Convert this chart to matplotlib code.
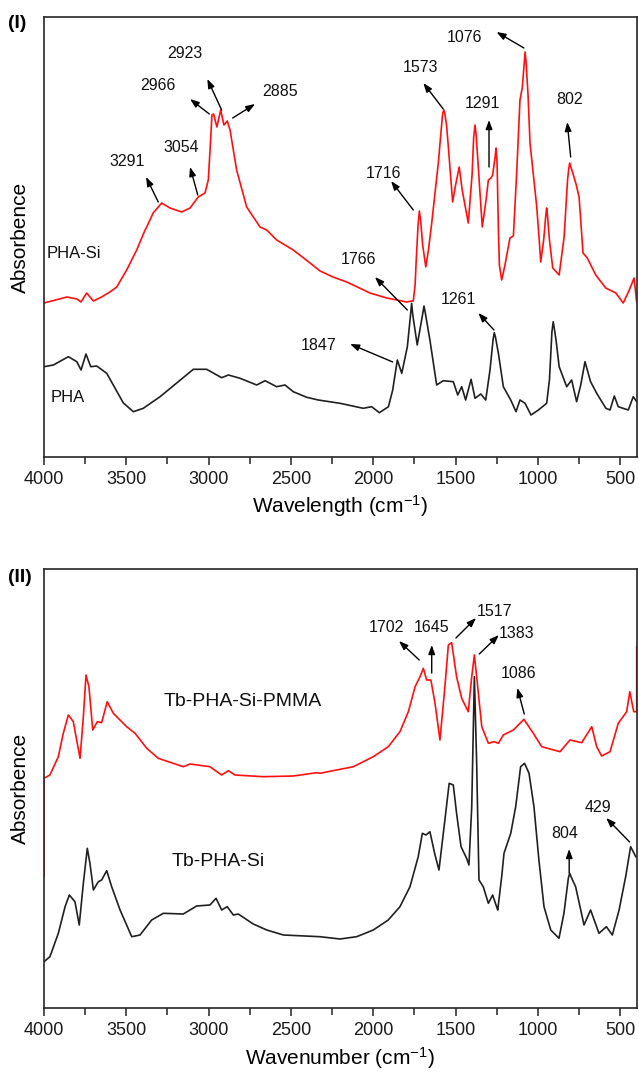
import matplotlib
matplotlib.use("Agg")
import matplotlib.pyplot as plt
from matplotlib.ticker import MultipleLocator

plt.rcParams['font.family'] = ['Liberation Sans', 'DejaVu Sans']
plt.rcParams['mathtext.default'] = 'regular'

# ---------------- Panel (I) data ----------------
pha_si_wn = [4000, 3860, 3800, 3775, 3741, 3700, 3650, 3600, 3558, 3498, 3437, 3386, 3376, 3337,
             3285, 3235, 3164, 3113, 3063, 3022, 3002, 2988, 2980, 2970, 2950, 2927, 2907, 2887,
             2870, 2850, 2830, 2769, 2688, 2647, 2587, 2486, 2384, 2323, 2245, 2161, 2020, 1918,
             1797, 1767, 1757, 1746, 1740, 1728, 1720, 1712, 1700, 1681, 1665, 1645, 1605, 1585,
             1578, 1571, 1565, 1555, 1544, 1518, 1500, 1478, 1460, 1423, 1400, 1390, 1382, 1375,
             1365, 1338, 1315, 1301, 1285, 1275, 1260, 1254, 1248, 1240, 1234, 1220, 1200, 1170,
             1149, 1129, 1109, 1100, 1095, 1085, 1078, 1072, 1060, 1048, 1007, 990, 983, 965, 952,
             947, 942, 930, 910, 871, 841, 820, 812, 807, 800, 790, 767, 750, 726, 700, 649,
             588, 527, 482, 445, 416, 400]
pha_si_abs = [15.4, 16.0, 15.8, 15.5, 16.4, 15.6, 16.0, 16.5, 17.0, 18.7, 20.7, 22.7, 23.0, 24.4,
              25.4, 24.9, 24.5, 24.9, 26.0, 26.4, 27.7, 31.7, 34.2, 34.3, 33.0, 34.7, 33.2, 33.6,
              32.7, 30.7, 28.7, 25.0, 23.0, 22.7, 21.7, 20.7, 19.4, 18.6, 18.0, 17.5, 16.4, 15.9,
              15.5, 15.6, 15.6, 17.2, 19.4, 23.2, 24.6, 23.6, 21.2, 19.0, 20.7, 23.4, 29.4, 33.2,
              34.4, 34.7, 34.3, 33.2, 31.0, 25.5, 27.2, 29.0, 26.7, 23.4, 28.2, 32.0, 33.2, 32.2,
              29.7, 23.0, 25.7, 27.7, 27.9, 28.2, 30.0, 30.9, 29.4, 22.7, 19.2, 17.7, 19.2, 21.9,
              22.1, 28.4, 35.7, 36.5, 36.9, 39.0, 40.5, 39.5, 36.2, 31.4, 25.0, 21.2, 19.5, 21.7, 24.2,
              24.9, 24.2, 21.7, 18.9, 18.2, 22.0, 27.7, 28.9, 29.4, 29.0, 28.5, 27.2, 26.0, 20.4,
              19.9, 18.2, 16.9, 16.4, 15.4, 16.7, 17.9, 15.5]

pha_wn = [4000, 3943, 3852, 3801, 3775, 3745, 3716, 3680, 3619, 3569, 3518, 3457, 3397, 3295,
          3194, 3093, 3012, 2921, 2880, 2809, 2708, 2657, 2587, 2536, 2486, 2404, 2334, 2202,
          2061, 2010, 1963, 1908, 1882, 1854, 1827, 1793, 1775, 1767, 1760, 1733, 1700, 1692,
          1685, 1656, 1615, 1575, 1514, 1487, 1463, 1439, 1406, 1382, 1347, 1317, 1291, 1272,
          1265, 1258, 1240, 1210, 1165, 1133, 1109, 1078, 1042, 997, 947, 930, 915, 907, 900,
          890, 871, 825, 795, 765, 740, 714, 680, 643, 587, 562, 536, 512, 451, 421, 400]
pha_abs = [9.03, 9.2, 10.03, 9.53, 8.7, 10.3, 9.03, 9.1, 8.37, 6.9, 5.4, 4.53, 4.87, 6.03,
           7.4, 8.77, 8.77, 7.93, 8.2, 7.87, 7.2, 7.63, 7.03, 7.2, 6.53, 5.97, 5.7, 5.37,
           4.87, 5.03, 4.43, 5.03, 6.7, 9.7, 8.37, 11.03, 14.0, 15.37, 14.2, 11.2, 14.3, 15.1,
           14.5, 11.7, 7.2, 7.63, 7.53, 6.2, 7.03, 5.7, 7.77, 5.87, 6.3, 5.7, 8.7, 11.8,
           12.43, 12.0, 10.37, 7.03, 5.7, 4.53, 5.7, 5.37, 4.2, 4.7, 5.37, 7.7, 12.5, 13.53, 12.8,
           11.7, 9.03, 7.03, 7.7, 5.53, 7.2, 9.53, 7.53, 6.37, 4.87, 4.7, 6.1, 5.03, 4.7, 6.03, 5.53]

# peak labels panel (I): label, text position (wn, a.u.), arrow tail, arrow head
peaks1_labels = ['3291', '3054', '2966', '2923', '2885', '1716', '1573', '1291', '1076', '802',
                 '1766', '1261', '1847']
peaks1_text = [(3492, 29.5), (3164, 30.9), (3309, 37.1), (3144, 40.4), (2567, 36.6), (1939, 28.4),
               (1716, 38.9), (1336, 35.4), (1443, 42.0), (810, 35.7), (2091, 19.8), (1484, 15.7),
               (2330, 11.2)]
peaks1_tail = [(3306, 25.5), (3066, 26.2), (2996, 34.3), (2921, 34.7), (2854, 33.9), (1757, 24.7),
               (1575, 34.8), (1297, 29.0), (1085, 40.9), (801, 30.0), (1793, 14.7), (1267, 12.7),
               (1882, 9.5)]
peaks1_head = [(3380, 28.0), (3113, 29.0), (3113, 35.8), (3008, 37.8), (2718, 35.3), (1892, 27.6),
               (1696, 37.4), (1297, 33.7), (1251, 42.5), (822, 33.5), (1990, 18.0), (1362, 14.4),
               (2141, 11.3)]

# ---------------- Panel (II) data ----------------
pmma_wn = [4000, 4000, 3964, 3913, 3883, 3852, 3822, 3798, 3781, 3761, 3745, 3727, 3704, 3676,
           3650, 3616, 3579, 3498, 3447, 3376, 3306, 3154, 3113, 2992, 2921, 2880, 2840, 2668,
           2486, 2344, 2324, 2121, 2000, 1909, 1838, 1787, 1746, 1716, 1696, 1676, 1650, 1625,
           1595, 1565, 1544, 1524, 1494, 1463, 1423, 1402, 1386, 1368, 1341, 1301, 1267, 1240,
           1210, 1149, 1085, 1028, 977, 866, 805, 734, 673, 643, 613, 562, 512, 461, 442, 418,
           400, 400]
pmma_abs = [13.1, 22.97, 23.3, 25.13, 27.47, 29.3, 28.63, 26.47, 24.97, 29.13, 33.3, 32.13, 27.8,
            28.63, 28.53, 30.63, 29.47, 28.13, 27.47, 25.97, 24.97, 24.13, 24.4, 24.13, 23.3,
            23.73, 23.3, 23.13, 23.2, 23.53, 23.47, 24.13, 25.13, 26.13, 27.63, 29.63, 32.13,
            33.13, 33.97, 32.8, 32.8, 30.47, 26.8, 32.13, 36.3, 36.53, 33.13, 30.97, 29.63,
            33.13, 35.3, 32.47, 28.13, 26.47, 26.63, 26.47, 27.3, 27.8, 28.87, 27.47, 26.13,
            25.63, 26.8, 26.53, 28.13, 26.13, 25.2, 25.63, 28.47, 29.63, 31.63, 29.63, 29.63,
            36.13]

tbsi_wn = [4000, 3964, 3913, 3872, 3846, 3812, 3786, 3761, 3737, 3721, 3700, 3670, 3650, 3619,
           3589, 3538, 3467, 3417, 3346, 3275, 3154, 3073, 2992, 2955, 2921, 2887, 2850, 2820,
           2729, 2647, 2546, 2324, 2202, 2101, 2000, 1909, 1838, 1777, 1727, 1702, 1680, 1656,
           1625, 1601, 1565, 1539, 1514, 1494, 1467, 1433, 1419, 1402, 1386, 1372, 1358, 1332,
           1301, 1275, 1251, 1244, 1220, 1206, 1165, 1135, 1105, 1081, 1054, 1024, 994, 963,
           922, 872, 842, 815, 807, 798, 771, 720, 680, 629, 584, 548, 507, 467, 437, 416, 406]
tbsi_abs = [4.63, 5.13, 7.47, 10.13, 11.3, 10.63, 8.3, 12.47, 15.97, 14.47, 11.8, 12.63, 12.8,
            13.73, 12.13, 9.8, 7.13, 7.3, 8.8, 9.47, 9.4, 10.2, 10.3, 10.97, 9.8, 10.13, 9.3, 9.4,
            8.4, 7.8, 7.3, 7.13, 6.9, 7.13, 7.8, 8.8, 10.13, 12.13, 15.13, 17.47, 17.3, 17.63,
            15.3, 13.8, 18.8, 22.47, 22.3, 19.47, 16.13, 14.97, 14.3, 20.13, 33.13, 24.47, 12.8,
            12.13, 10.47, 11.3, 10.13, 9.8, 13.13, 15.47, 17.47, 20.13, 24.13, 24.47, 23.47,
            20.13, 14.8, 10.13, 7.8, 6.97, 9.47, 13.0, 13.47, 13.1, 12.13, 8.3, 9.8, 7.47, 8.13,
            7.3, 9.8, 13.13, 16.13, 15.47, 15.13]

peaks2_labels = ['1702', '1645', '1517', '1383', '1086', '804', '429']
peaks2_text = [(1919, 38.0), (1645, 38.0), (1261, 39.7), (1129, 37.5), (1119, 33.5), (836, 17.5),
               (633, 20.1)]
peaks2_tail = [(1721, 34.8), (1645, 33.5), (1498, 37.0), (1356, 35.4), (1083, 29.4), (810, 13.5),
               (443, 16.6)]
peaks2_head = [(1844, 36.7), (1645, 36.3), (1376, 39.0), (1237, 37.3), (1125, 32.0), (810, 15.9),
               (585, 19.0)]

xticks = [4000, 3500, 3000, 2500, 2000, 1500, 1000, 500]

# ---------------- Figure ----------------
W, H = 639, 1075
fig = plt.figure(figsize=(W / 100, H / 100), dpi=100)

def fx(px):
    return px / W

def fy(py):
    return 1 - py / H

ax1 = fig.add_axes([fx(44), fy(457), fx(636.7) - fx(44), fy(17) - fy(457)])
ax2 = fig.add_axes([fx(44), fy(1008), fx(636.7) - fx(44), fy(569) - fy(1008)])

RED = '#ff1010'
BLK = '#202020'

ax1.plot(pha_si_wn, pha_si_abs, color=RED, lw=1.2)
ax1.plot(pha_wn, pha_abs, color=BLK, lw=1.2)
ax1.set_ylim(0, 44)

ax2.plot(pmma_wn, pmma_abs, color=RED, lw=1.2)
ax2.plot(tbsi_wn, tbsi_abs, color=BLK, lw=1.2)
ax2.set_ylim(0, 43.9)

arrow_kw = dict(arrowstyle='-|>,head_length=0.6,head_width=0.22', color='black', lw=1.0,
                shrinkA=0, shrinkB=0, mutation_scale=9)

for ax in (ax1, ax2):
    ax.set_xlim(4000, 400)
    ax.set_xticks(xticks)
    ax.xaxis.set_minor_locator(MultipleLocator(250))
    ax.set_yticks([])
    ax.tick_params(axis='x', which='major', direction='out', length=6, width=1.1,
                   labelsize=13, pad=4, colors='#222222')
    ax.tick_params(axis='x', which='minor', direction='out', length=5, width=1.1,
                   colors='#222222')
    ax.tick_params(axis='x', labelcolor='#1a1a1a')
    for s in ax.spines.values():
        s.set_linewidth(1.2)
        s.set_color('#262626')

for lab, tp, tl, hd in zip(peaks1_labels, peaks1_text, peaks1_tail, peaks1_head):
    ax1.text(tp[0], tp[1], lab, fontsize=11.5, ha='center', va='center', color='#111111')
    ax1.annotate('', xy=hd, xytext=tl, arrowprops=arrow_kw)

for lab, tp, tl, hd in zip(peaks2_labels, peaks2_text, peaks2_tail, peaks2_head):
    ax2.text(tp[0], tp[1], lab, fontsize=11.5, ha='center', va='center', color='#111111')
    ax2.annotate('', xy=hd, xytext=tl, arrowprops=arrow_kw)

ax1.text(3984, 20.4, 'PHA-Si', fontsize=12, ha='left', va='center', color='#111111')
ax1.text(3959, 5.9, 'PHA', fontsize=12, ha='left', va='center', color='#111111')
ax2.text(3275, 30.6, 'Tb-PHA-Si-PMMA', fontsize=14, ha='left', va='center', color='#111111')
ax2.text(3224, 14.6, 'Tb-PHA-Si', fontsize=14, ha='left', va='center', color='#111111')

fig.text(fx(340), fy(506), 'Wavelength (cm$^{-1}$)', fontsize=15, ha='center', va='center')
fig.text(fx(340), fy(1058), 'Wavenumber (cm$^{-1}$)', fontsize=15, ha='center', va='center')
fig.text(fx(20), fy(237), 'Absorbence', fontsize=15, rotation=90, ha='center', va='center')
fig.text(fx(20), fy(788), 'Absorbence', fontsize=15, rotation=90, ha='center', va='center')
fig.text(fx(17), fy(23), '(I)', fontsize=14, fontweight='bold', ha='center', va='center')
fig.text(fx(20), fy(577), '(II)', fontsize=14, fontweight='bold', ha='center', va='center')

fig.savefig('out.png', dpi=100)
